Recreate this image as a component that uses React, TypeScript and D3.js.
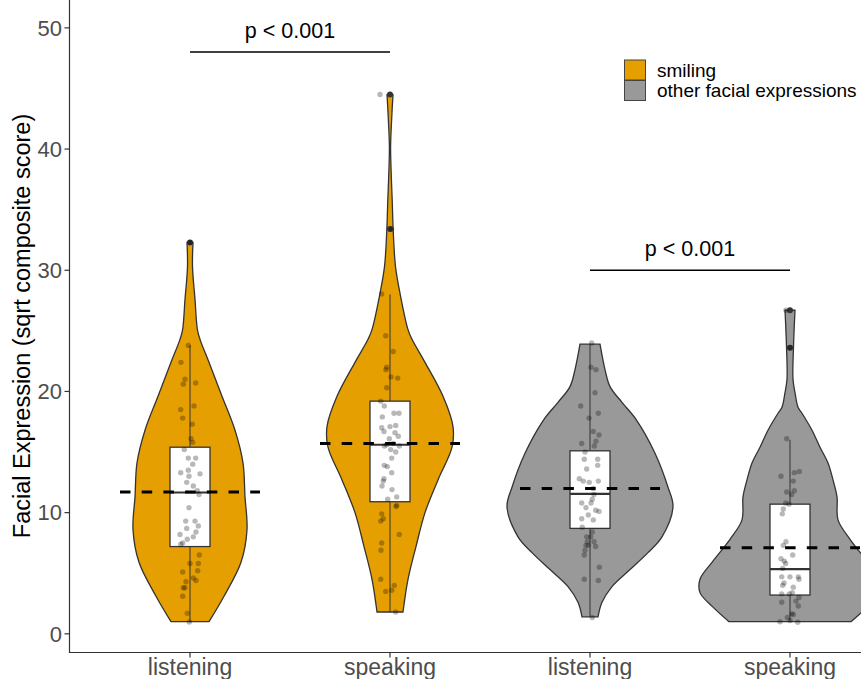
import React from "react";
import * as d3 from "d3";

// ---------- data ----------
const groups = ["smiling_listening", "smiling_speaking", "other_listening", "other_speaking"];
const xLabels = ["listening", "speaking", "listening", "speaking"];
const groupExpression = ["smiling", "smiling", "other", "other"];
const legendKeys = ["smiling", "other"];
const legendLabels = ["smiling", "other facial expressions"];
const yTicks = [0, 10, 20, 30, 40, 50];
const yTitle = "Facial Expression (sqrt composite score)";

// violin outlines: [value, half width in category units]
const violinSmilingListening: [number, number][] = [
  [1.0, 0.095], [3.1, 0.17], [5.9, 0.255], [8.6, 0.285], [11.3, 0.275], [14.1, 0.265],
  [16.8, 0.225], [19.6, 0.16], [22.4, 0.095], [24.3, 0.05], [25.1, 0.037], [27.6, 0.025],
  [30.3, 0.0125], [32.3, 0.015],
];
const violinSmilingSpeaking: [number, number][] = [
  [1.8, 0.065], [4.5, 0.09], [7.2, 0.13], [10, 0.175], [12.7, 0.24], [15.4, 0.31], [17.1, 0.315],
  [19.6, 0.265], [22.4, 0.175], [24.3, 0.11], [25.1, 0.09], [28.1, 0.05], [30.3, 0.0275],
  [33.1, 0.0165], [35.8, 0.011], [38, 0.006], [40.2, 0.003], [42.7, 0.009], [44.5, 0.015],
];
const violinOtherListening: [number, number][] = [
  [1.4, 0.04], [2.6, 0.06], [3.9, 0.11], [5.3, 0.2], [6.7, 0.29], [8.0, 0.36], [10.5, 0.415],
  [12.1, 0.39], [14.9, 0.325], [17.7, 0.23], [19.1, 0.16], [20.4, 0.1], [21.8, 0.075], [23.9, 0.05],
];
const violinOtherSpeaking: [number, number][] = [
  [1.0, 0.305], [2.2, 0.385], [3.4, 0.45], [4.5, 0.45], [5.9, 0.39], [7.8, 0.3], [9.4, 0.24],
  [11.3, 0.235], [12.7, 0.215], [14.1, 0.19], [15.4, 0.15], [16.8, 0.11], [18.2, 0.06],
  [18.7, 0.04], [19.9, 0.025], [21, 0.015], [23.7, 0.0175], [26.7, 0.025],
];
const violins = [violinSmilingListening, violinSmilingSpeaking, violinOtherListening, violinOtherSpeaking];

// box stats: [lower whisker, q1, median, q3, upper whisker]
const boxStats: [number, number, number, number, number][] = [
  [0.95, 7.2, 11.66, 15.4, 23.8],
  [1.77, 10.9, 15.6, 19.2, 28.0],
  [1.4, 8.7, 11.55, 15.1, 23.9],
  [1.0, 3.2, 5.34, 10.7, 16.0],
];
const means = [11.7, 15.7, 12.0, 7.1];
const outliers = [[32.3], [44.5, 33.4], [], [26.7, 23.6]];

// participants: [value, jitter in % of category width]
const pointsSmilingListening: [number, number][] = [
  [32.3, 0], [23.8, -0.85], [22.4, -4.5], [21.0, -2.5], [20.6, -3.35], [20.7, 2.85], [18.8, 2],
  [18.5, -4.65], [17.8, -3.65], [17.3, 1.15], [16.1, 0.5], [15.8, 1.35], [15.2, -2.85],
  [14.5, -0.85], [14.5, 2.85], [14.0, 1.35], [13.5, -0.85], [13.3, -4.65], [13.2, 5],
  [13.0, -0.5], [12.5, -1.65], [12.2, 1.65], [11.8, 3.65], [11.5, 4.5], [10.4, -0.5],
  [9.3, -2.15], [9.3, 2.5], [8.9, 4.15], [8.7, -1.65], [8.4, 3], [8.2, -5], [8.0, 1.65],
  [7.8, -1.35], [7.5, -3.65], [7.4, -4.65], [6.5, 4.65], [5.8, 0], [5.8, 4.15], [5.1, -3.65],
  [5.2, 3.85], [4.6, 1.65], [4.4, 3], [4.3, -2], [3.8, -3.35], [3.8, -2.5], [3.1, -3.65],
  [1.7, -1.35], [0.97, -0.35],
];
const pointsSmilingSpeaking: [number, number][] = [
  [44.5, -5], [33.4, 0.85], [28.05, -4.15], [24.6, -2.15], [23.3, 1.65], [22.0, -1.65],
  [21.8, -2], [21.2, 0.5], [21.1, 3.85], [20.3, -1.65], [19.2, -4.65], [18.8, -2.85], [18.2, 2],
  [18.2, 4.5], [17.9, -3.85], [17.0, -4.15], [17.1, 0], [17.2, 2.85], [16.7, -3], [16.6, 2.5],
  [16.3, 4.15], [16.1, -0.35], [15.6, -1.65], [15.7, 1.65], [15.5, -2.85], [15.5, 4.65],
  [15.2, 0.35], [15.0, 2.85], [14.5, 0.85], [13.9, -2.85], [13.8, -1.35], [13.3, 0.85],
  [12.8, -3], [12.6, -3.35], [12.2, -4], [11.9, 1], [11.3, 3.35], [11.1, -1.15], [10.6, 3.35],
  [10.5, 3], [9.9, -4.15], [9.5, -3.35], [9.3, -4.65], [8.2, 4.65], [7.5, -4.15], [6.9, -4.5],
  [4.5, -4.65], [4.0, 2.15], [3.5, -2.15], [3.6, 0.85], [1.8, 2.85],
];
const pointsOtherListening: [number, number][] = [
  [24.0, 0.85], [22.0, 0.5], [21.8, 3], [19.9, 2.5], [18.8, -4.65], [18.2, 4.15], [17.8, -0.5],
  [16.7, 1.65], [16.4, 4.5], [15.9, 3], [15.5, 2.15], [15.7, -4.15], [15.0, -2.5], [14.4, -2.85],
  [14.4, 3.85], [13.9, 3.85], [13.6, -1.65], [12.8, -5.35], [12.6, -3.35], [12.5, -0.35],
  [12.6, 4.15], [12.0, 1.65], [11.5, 2], [11.1, 1.15], [10.8, -4.15], [10.8, 0.5], [10.4, -2],
  [10.2, 2.85], [10.1, 4.5], [9.8, -0.85], [9.5, -4.15], [9.4, 1.65], [8.8, -3.85], [8.4, 1.15],
  [8.0, -1.65], [8.0, 0.35], [7.6, -1.35], [7.6, 2], [7.3, -2], [7.3, -0.85], [7.2, 2.85],
  [6.9, -2.5], [6.5, -2.85], [5.5, 4.65], [4.5, -2.85], [4.4, 4.15], [1.35, 1.15],
];
const pointsOtherSpeaking: [number, number][] = [
  [26.7, -2], [23.6, 0], [16.1, -1.65], [13.0, -4.5], [13.3, 2.15], [13.4, 4.65], [12.6, 1.65],
  [11.8, 2.15], [11.7, -1.65], [11.5, 0.85], [10.8, -2.15], [10.7, -0.5], [10.3, -3.35],
  [9.9, -3.85], [7.6, -2], [7.3, -3.35], [6.5, 1.35], [6.2, -4.5], [6.0, -2.85], [5.8, -2.15],
  [5.4, -3.65], [4.7, -4.15], [4.7, 0], [4.7, 4.15], [4.2, -3], [4.0, -3.65], [4.5, 4.5],
  [3.85, 1.65], [3.3, -4.15], [3.3, -0.35], [3.4, 1.15], [3.0, 4.5], [2.6, -4.15], [2.7, 3],
  [2.3, 4.15], [1.65, 0.85], [1.6, 1.65], [1.35, -1.35], [1.0, -5], [1.1, 0], [0.95, 3.85],
];
const points = [pointsSmilingListening, pointsSmilingSpeaking, pointsOtherListening, pointsOtherSpeaking];

// significance brackets: [from group, to group, height, label]
const comparisons: [number, number, number, string][] = [
  [0, 1, 48.0, "p < 0.001"],
  [2, 3, 30.0, "p < 0.001"],
];

// ---------- styles ----------
const W = 861;
const H = 679;
const FONT = "'Liberation Sans', Arial, Helvetica, sans-serif";
const fillColor: Record<string, string> = { smiling: "#E69F00", other: "#999999" };
const ink = "#333333";

export default function App() {
  const plotLeft = 69.5;
  const plotBottom = 652.5;
  const x = d3.scalePoint<string>().domain(groups).range([70, 910]).padding(0.6);
  const step = x.step();
  const y = d3.scaleLinear().domain([-1.5, 52.3]).range([652, 0]);

  const boxHalf = 0.1;
  const meanHalf = 0.35;

  return (
    <svg
      width={W}
      height={H}
      viewBox={`0 0 ${W} ${H}`}
      style={{ position: "absolute", left: 0, top: 0, background: "#fff" }}
      fontFamily={FONT}
    >
      <rect x={0} y={0} width={W} height={H} fill="#fff" />
      {groups.map((g, i) => {
        const cx = x(g) as number;
        const area = d3
          .area<[number, number]>()
          .curve(d3.curveCatmullRom.alpha(0.5))
          .y((d) => y(d[0]))
          .x0((d) => cx - d[1] * step)
          .x1((d) => cx + d[1] * step);
        const [lo, q1, med, q3, hi] = boxStats[i];
        const bx0 = cx - boxHalf * step;
        const bx1 = cx + boxHalf * step;
        return (
          <g key={g}>
            <path d={area(violins[i]) || ""} fill={fillColor[groupExpression[i]]} stroke={ink} strokeWidth={1.3} />
            <line x1={cx} x2={cx} y1={y(q3)} y2={y(hi)} stroke={ink} strokeWidth={1} />
            <line x1={cx} x2={cx} y1={y(q1)} y2={y(lo)} stroke={ink} strokeWidth={1} />
            <rect x={bx0} y={y(q3)} width={bx1 - bx0} height={y(q1) - y(q3)} fill="#fff" stroke={ink} strokeWidth={1.3} />
            <line x1={bx0} x2={bx1} y1={y(med)} y2={y(med)} stroke={ink} strokeWidth={2.2} />
            {outliers[i].map((v, k) => (
              <circle key={"o" + k} cx={cx} cy={y(v)} r={3} fill={ink} />
            ))}
            {points[i].map((p, k) => (
              <circle key={"p" + k} cx={cx + (p[1] / 100) * step} cy={y(p[0])} r={2.7} fill="#000" fillOpacity={0.28} />
            ))}
            <line
              x1={cx - meanHalf * step}
              x2={cx + meanHalf * step}
              y1={y(means[i])}
              y2={y(means[i])}
              stroke="#000"
              strokeWidth={3}
              strokeDasharray="10.5,11.2"
            />
          </g>
        );
      })}

      {/* axes */}
      <line x1={plotLeft} x2={plotLeft} y1={0} y2={plotBottom} stroke={ink} strokeWidth={1.2} />
      <line x1={plotLeft - 0.6} x2={W} y1={plotBottom} y2={plotBottom} stroke={ink} strokeWidth={1.2} />
      {yTicks.map((t) => (
        <g key={"yt" + t}>
          <line x1={plotLeft - 5} x2={plotLeft} y1={y(t)} y2={y(t)} stroke={ink} strokeWidth={1.2} />
          <text x={plotLeft - 7.5} y={y(t) + 7.8} textAnchor="end" fontSize={22} fill="#4D4D4D">
            {t}
          </text>
        </g>
      ))}
      {groups.map((g, i) => (
        <g key={"xt" + g}>
          <line x1={x(g)} x2={x(g)} y1={plotBottom} y2={plotBottom + 5} stroke={ink} strokeWidth={1.2} />
          <text x={x(g)} y={675} textAnchor="middle" fontSize={23} fill="#4D4D4D">
            {xLabels[i]}
          </text>
        </g>
      ))}
      <text transform={`translate(30,326) rotate(-90)`} textAnchor="middle" fontSize={23.5} fill="#000">
        {yTitle}
      </text>

      {/* significance brackets */}
      {comparisons.map(([a, b, h, label], k) => {
        const xa = x(groups[a]) as number;
        const xb = x(groups[b]) as number;
        return (
          <g key={"c" + k}>
            <line x1={xa} x2={xb} y1={y(h)} y2={y(h)} stroke="#000" strokeWidth={1.5} />
            <text x={(xa + xb) / 2} y={y(h) - 14.5} textAnchor="middle" fontSize={21.5} fill="#000">
              {label}
            </text>
          </g>
        );
      })}

      {/* legend */}
      {legendKeys.map((k, i) => (
        <g key={"lg" + k} transform={`translate(624.5,${60 + i * 20.5})`}>
          <rect x={0} y={0} width={21} height={20} fill={fillColor[k]} stroke="#444" strokeWidth={1} />
          <text x={32.5} y={16.5} fontSize={19} fill="#000">
            {legendLabels[i]}
          </text>
        </g>
      ))}
    </svg>
  );
}
